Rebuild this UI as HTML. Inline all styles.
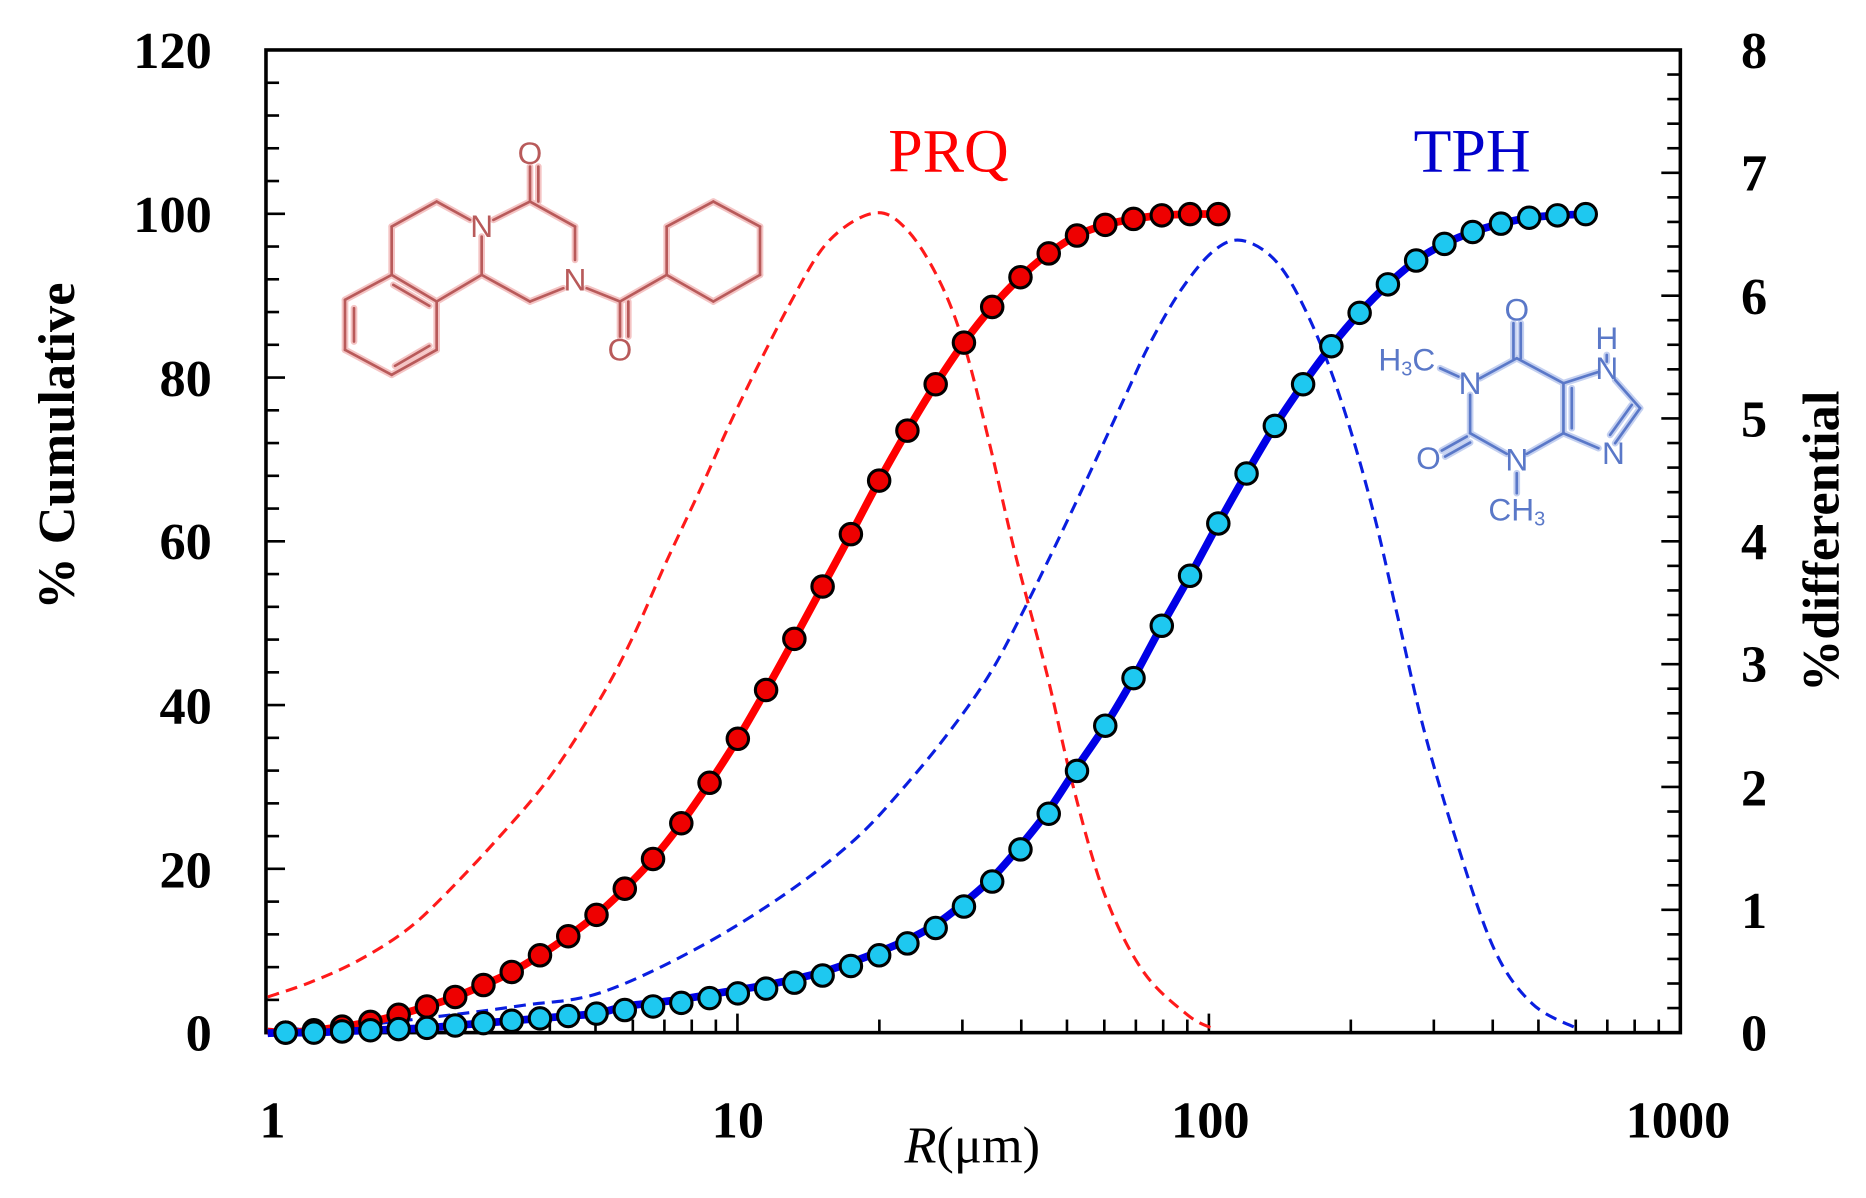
<!DOCTYPE html>
<html><head><meta charset="utf-8"><style>
html,body{margin:0;padding:0;background:#fff;}
svg{display:block;}
text{font-family:"Liberation Serif",serif;}
text.sans{font-family:"Liberation Sans",sans-serif;}
</style></head><body>
<svg id="s" width="1866" height="1198" viewBox="0 0 1568 1007" preserveAspectRatio="none" xmlns="http://www.w3.org/2000/svg">
<rect x="0" y="0" width="1568" height="1007" fill="#fff"/>
<g id="axes"></g>
<g id="curves"></g>
<g id="labels" font-weight="bold" fill="#000">
<g font-size="44" text-anchor="end">
<text x="178" y="57">120</text><text x="178" y="195">100</text><text x="178" y="333">80</text><text x="178" y="470">60</text><text x="178" y="608">40</text><text x="178" y="746">20</text><text x="178" y="883">0</text>
</g>
<g font-size="44" text-anchor="start">
<text x="1463" y="57">8</text><text x="1463" y="160">7</text><text x="1463" y="264">6</text><text x="1463" y="367">5</text><text x="1463" y="470">4</text><text x="1463" y="573">3</text><text x="1463" y="677">2</text><text x="1463" y="780">1</text><text x="1463" y="883">0</text>
</g>
<g font-size="44" text-anchor="middle">
<text x="229" y="956">1</text><text x="620" y="956">10</text><text x="1017" y="956">100</text><text x="1410" y="956">1000</text>
</g>
<text x="817" y="977" font-size="44" text-anchor="middle" font-weight="normal"><tspan font-style="italic">R</tspan>(μm)</text>
<text transform="translate(62,375) rotate(-90)" font-size="44" text-anchor="middle">% Cumulative</text>
<text transform="translate(1545,455) rotate(-90)" font-size="44" text-anchor="middle">%differential</text>
<text x="797" y="144" font-size="52" fill="#ff0000" font-weight="normal" text-anchor="middle">PRQ</text>
<text x="1237" y="144" font-size="52" fill="#0000cc" font-weight="normal" text-anchor="middle">TPH</text>
</g>
<g transform="translate(277.3,100.8) scale(0.2801)" fill="none" stroke-linecap="round">
<g stroke="#f4c4c4" stroke-width="20" id="prqg"></g>
<g stroke="#b85a5a" stroke-width="8" id="prq"></g>
<g font-size="95" fill="#b85a5a" stroke="none" text-anchor="middle">
<text class="sans" x="455" y="352">N</text><text class="sans" x="735" y="512">N</text><text class="sans" x="600" y="133">O</text><text class="sans" x="870" y="722">O</text>
</g>
</g>
<g transform="translate(1142.9,235.3) scale(0.2801)" fill="none" stroke-linecap="round">
<g stroke="#c4d0f0" stroke-width="20" id="tphg"></g>
<g stroke="#5a78c8" stroke-width="8" id="tph"></g>
<g font-size="95" fill="#5a78c8" stroke="none" text-anchor="middle">
<text class="sans" x="470" y="122">O</text><text class="sans" x="330" y="342">N</text><text class="sans" x="205" y="567">O</text><text class="sans" x="470" y="572">N</text><text class="sans" x="740" y="297">N</text><text class="sans" x="740" y="207">H</text><text class="sans" x="760" y="552">N</text>
<text class="sans" x="140" y="272">H<tspan font-size="60" dy="15">3</tspan><tspan dy="-15">C</tspan></text>
<text class="sans" x="470" y="722">CH<tspan font-size="60" dy="15">3</tspan></text>
</g>
</g>
</svg>
<script>
var NS="http://www.w3.org/2000/svg";
function el(p,t,a){var e=document.createElementNS(NS,t);for(var k in a)e.setAttribute(k,a[k]);p.appendChild(e);return e;}
var L=223.5,R=1412,T=42,B=868,dec=(R-L)/3;
var ax=document.getElementById('axes');
for(var i=0;i<=30;i++){var y=B-i*4*6.883;if(y<T+1)continue;el(ax,'line',{x1:L,y1:y,x2:L+(i%5==0?16:11),y2:y,stroke:'#000','stroke-width':2.2});}
for(var i=0;i<=40;i++){var y=B-i*0.2*103.25;if(y<T+1)continue;el(ax,'line',{x1:R,y1:y,x2:R-(i%5==0?16:11),y2:y,stroke:'#000','stroke-width':2.2});}
for(var d=0;d<3;d++)for(var m=1;m<=9;m++){var x=L+dec*(d+Math.log10(m));if(m==1&&d==0)continue;el(ax,'line',{x1:x,y1:B,x2:x,y2:B-(m==1?16:11),stroke:'#000','stroke-width':2.2});}
el(ax,'rect',{x:L,y:T,width:R-L,height:B-T,fill:'none',stroke:'#000','stroke-width':3});
function cr(pts){var d='M'+pts[0][0]+','+pts[0][1];for(var i=0;i<pts.length-1;i++){var p0=pts[i-1]||pts[i],p1=pts[i],p2=pts[i+1],p3=pts[i+2]||p2;
d+=' C'+(p1[0]+(p2[0]-p0[0])/6).toFixed(1)+','+(p1[1]+(p2[1]-p0[1])/6).toFixed(1)+' '+(p2[0]-(p3[0]-p1[0])/6).toFixed(1)+','+(p2[1]-(p3[1]-p1[1])/6).toFixed(1)+' '+p2[0]+','+p2[1];}return d;}
function z7(a){return a.map(function(p){return [+((600+p[0]/1.566)/1.19).toFixed(1),+((180+p[1]/1.82)/1.19).toFixed(1)];});}
var cv=document.getElementById('curves');
var rd=[[225,838],[260,826],[300,808],[340,783],[372,754],[420,703],[462,653],[504,588],[532,535],[560,472],[590,408],[620,342],[665,253],[697,202],[735,179]].concat(z7([[480,90],[530,180],[570,300],[610,480],[650,680],[700,900],[740,1100],[790,1300],[850,1440],[920,1520],[960,1545]]));
var bd=[[225,866],[300,862],[380,853],[440,845]].concat(z7([[0,1480],[150,1400],[290,1300],[400,1200],[480,1100],[550,1000],[610,900],[665,780],[740,600],[820,400],[860,300],[910,200],[960,130],[1005,110],[1060,150],[1110,250],[1160,400],[1210,600],[1250,800],[1290,1000],[1340,1200],[1400,1400],[1460,1500],[1530,1545]]));
var ry=[868,866,863,859,853,846,838,828,817,803,787,769,747,722,692,658,621,580,537,493,449,404,362,323,288,258,233,213,198,189,184,181,180,180];
var cy=[868,868,867,866,865,864,862,860,858,856,854,852,849,846,843,839,835,831,826,820,812,803,793,780,762,741,714,684,648,610,570,526,484,440,398,358,323,291,263,239,219,205,195,188,183,181,180];
var rp=[[225,867]],bp=[[225,868.5]];
ry.forEach(function(y,i){rp.push([240+i*23.75,y]);});rp.push([1030,180]);
cy.forEach(function(y,i){var off=(i>=12&&i<=28)?-3:0;bp.push([240+i*23.75,y+off]);});
el(cv,'path',{d:cr(rd),fill:'none',stroke:'#ff1a1a','stroke-width':2.6,'stroke-dasharray':'10,6'});
el(cv,'path',{d:cr(bd),fill:'none',stroke:'#0a1ee0','stroke-width':2.6,'stroke-dasharray':'10,6'});
el(cv,'path',{d:cr(rp),fill:'none',stroke:'#ff0000','stroke-width':6.5});
el(cv,'path',{d:cr(bp),fill:'none',stroke:'#0000e6','stroke-width':6.5});
ry.forEach(function(y,i){el(cv,'circle',{cx:240+i*23.75,cy:y,r:9,fill:'#ee0000',stroke:'#000','stroke-width':2.6});});
cy.forEach(function(y,i){el(cv,'circle',{cx:240+i*23.75,cy:y,r:9,fill:'#1ec8f0',stroke:'#000','stroke-width':2.6});});
var prq=[[45,540,185,465],[185,465,320,545],[320,545,320,690],[320,690,185,765],[185,765,45,690],[45,690,45,540],[72,565,72,665],[190,495,298,558],[195,738,298,678],
[185,465,185,320],[185,320,320,245],[320,245,420,300],[455,350,455,465],[455,465,320,545],[490,300,600,245],[600,245,600,140],[625,245,625,140],[600,245,735,320],[735,320,735,420],[700,505,600,545],[600,545,455,465],
[770,505,870,545],[870,545,870,650],[895,545,895,650],[870,545,1010,465],[1010,465,1010,320],[1010,320,1150,245],[1150,245,1290,320],[1290,320,1290,465],[1290,465,1150,545],[1150,545,1010,465]];
var tph=[[460,235,460,130],[482,235,482,130],[470,235,360,295],[240,265,295,290],[330,345,330,460],[330,460,440,522],[320,470,245,512],[330,488,255,530],[500,522,610,460],[610,460,610,310],[635,445,635,325],[610,310,470,235],[610,310,712,277],[740,225,740,245],[765,300,840,385],[840,385,765,490],[815,375,750,465],[715,505,610,460],[470,580,470,640]];
function draw(id,arr){var g=document.getElementById(id);arr.forEach(function(a){el(g,'line',{x1:a[0],y1:a[1],x2:a[2],y2:a[3]});});}
draw('prqg',prq);draw('prq',prq);draw('tphg',tph);draw('tph',tph);
</script>
</body></html>
